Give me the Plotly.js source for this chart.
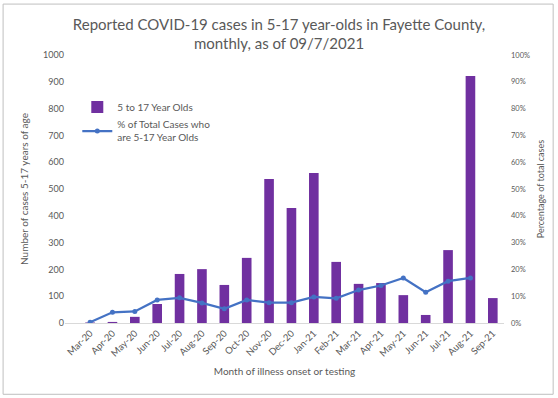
<!DOCTYPE html>
<html><head><meta charset="utf-8">
<script src="https://cdn.plot.ly/plotly-3.0.1.min.js"></script>
<style>html,body{margin:0;padding:0;background:#fff}#c{width:558px;height:398px}</style>
</head><body><div id="c"></div>
<script>
const months = ["Mar-20","Apr-20","May-20","Jun-20","Jul-20","Aug-20","Sep-20","Oct-20","Nov-20","Dec-20","Jan-21","Feb-21","Mar-21","Apr-21","May-21","Jun-21","Jul-21","Aug-21","Sep-21"];
const cases = [2,4,23,71,183,201,142,243,537,429,560,228,146,149,104,30,272,922,93];
const pctMonths = months.slice(0,18);
const pct = [0.003,0.04,0.043,0.086,0.094,0.075,0.053,0.086,0.076,0.076,0.097,0.092,0.123,0.14,0.168,0.115,0.156,0.168];

const gray = '#595959';
const font = 'Lato, "Open Sans", sans-serif';
const data = [
  {type:'bar', x:months, y:cases, name:'5 to 17 Year Olds', marker:{color:'#7030A0'}, yaxis:'y'},
  {type:'scatter', mode:'lines+markers', x:pctMonths, y:pct, name:'% of Total Cases who<br>are 5-17 Year Olds',
   line:{color:'#4472C4', width:2.25}, marker:{color:'#4472C4', size:5}, yaxis:'y2'}
];
const layout = {
  width:558, height:398,
  margin:{l:65, r:54, t:55, b:75},
  paper_bgcolor:'#fff', plot_bgcolor:'#fff',
  font:{family:font, color:gray, size:9},
  title:{text:'Reported COVID-19 cases in 5-17 year-olds in Fayette County,<br>monthly, as of 09/7/2021',
         font:{size:15, color:gray, family:font}, x:0.5, xanchor:'center', y:0.925, yanchor:'top'},
  bargap:0.57,
  showlegend:true,
  legend:{x:0.028, y:0.86, xanchor:'left', yanchor:'top', bgcolor:'rgba(0,0,0,0)',
          font:{size:10, color:gray}, tracegroupgap:14, itemwidth:30},
  xaxis:{tickangle:-45, showgrid:false, showline:true, linecolor:'#d9d9d9', linewidth:1,
         ticks:'', tickfont:{size:9.5, color:gray},
         title:{text:'Month of illness onset or testing', font:{size:10, color:gray}, standoff:10}},
  yaxis:{range:[0,1000], dtick:100, showgrid:false, zeroline:false, ticks:'',
         tickfont:{size:9, color:gray},
         title:{text:'Number of cases 5-17 years of age', font:{size:10, color:gray}, standoff:12}},
  yaxis2:{range:[0,1], dtick:0.1, tickformat:'.0%', overlaying:'y', side:'right', showgrid:false,
          zeroline:false, ticks:'', ticklabelstandoff:6, tickfont:{size:7.5, color:gray},
          title:{text:'Percentage of total cases', font:{size:9, color:gray}, standoff:8}},
  shapes:[{type:'rect', xref:'paper', yref:'paper', x0:-0.141, x1:1.112, y0:-0.266, y1:1.19,
           line:{color:'#bfbfbf', width:1}}]
};
Plotly.newPlot('c', data, layout, {staticPlot:true, displayModeBar:false});
</script></body></html>
